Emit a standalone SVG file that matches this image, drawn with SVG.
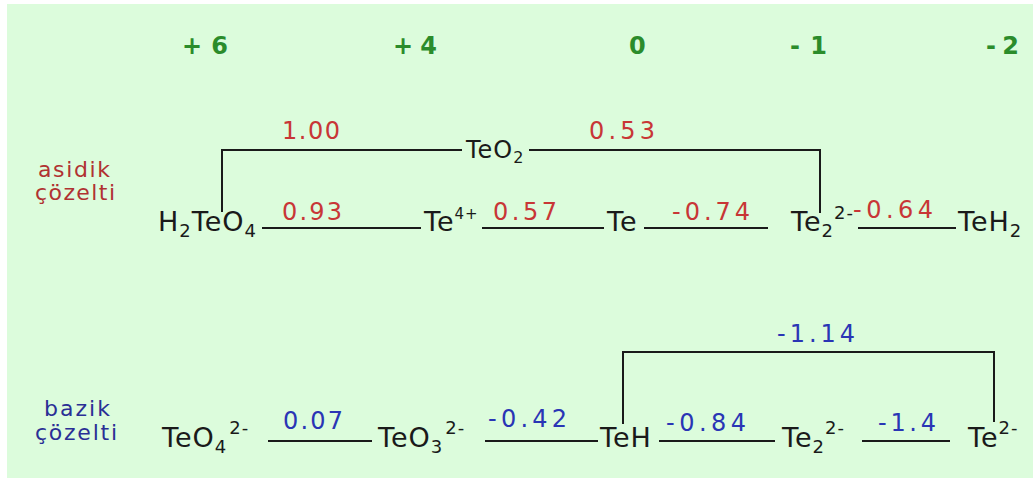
<svg xmlns="http://www.w3.org/2000/svg" width="1033" height="484" viewBox="0 0 1033 484">
<style>
.ox{font-family:"DejaVu Sans",Verdana,sans-serif;font-weight:bold;font-size:24px;fill:#2b8c2b}
.sp{font-family:"DejaVu Sans",Verdana,sans-serif;font-size:27px;fill:#1a1a1a;letter-spacing:1px}
.sm{font-size:18px}
.sm2{font-size:15px}
.nr{font-family:"DejaVu Sans",Verdana,sans-serif;font-size:24px;fill:#c83636}
.nb{font-family:"DejaVu Sans",Verdana,sans-serif;font-size:24px;fill:#2a35b5}
.lr{font-family:"DejaVu Sans",Verdana,sans-serif;font-size:22px;fill:#b03232}
.lb{font-family:"DejaVu Sans",Verdana,sans-serif;font-size:22px;fill:#2a2f95}
.ln{stroke:#1a1a1a;stroke-width:2;fill:none}
</style>
<rect x="0" y="0" width="1033" height="484" fill="#ffffff"/>
<rect x="7" y="4" width="1026" height="474" fill="#dcfcdc"/>

<g id="oxidation-states">
<text class="ox" x="182" y="54" textLength="46" lengthAdjust="spacing">+6</text>
<text class="ox" x="393" y="54" textLength="44" lengthAdjust="spacing">+4</text>
<text class="ox" x="629" y="54">0</text>
<text class="ox" x="790" y="54" textLength="37" lengthAdjust="spacing">-1</text>
<text class="ox" x="986" y="54" textLength="33" lengthAdjust="spacing">-2</text>
</g>

<g id="label-asidik">
<text class="lr" x="38" y="177" textLength="72" lengthAdjust="spacing">asidik</text>
<text class="lr" x="35" y="200" textLength="80" lengthAdjust="spacing">çözelti</text>
</g>
<g id="label-bazik">
<text class="lb" x="44" y="416" textLength="66" lengthAdjust="spacing">bazik</text>
<text class="lb" x="35" y="440" textLength="82" lengthAdjust="spacing">çözelti</text>
</g>

<g id="connectors">
<polyline class="ln" points="222,212 222,150 462,150"/>
<polyline class="ln" points="529,150 820,150 820,213"/>
<line class="ln" x1="262" y1="228" x2="421" y2="228"/>
<line class="ln" x1="482" y1="228" x2="604" y2="228"/>
<line class="ln" x1="644" y1="228" x2="768" y2="228"/>
<line class="ln" x1="858" y1="228" x2="956" y2="228"/>
<polyline class="ln" points="623,424 623,352 994,352 994,422"/>
<line class="ln" x1="268" y1="441" x2="372" y2="441"/>
<line class="ln" x1="485" y1="441" x2="598" y2="441"/>
<line class="ln" x1="659" y1="441" x2="775" y2="441"/>
<line class="ln" x1="862" y1="441" x2="950" y2="441"/>
</g>

<g id="acid-labels">
<text class="nr" x="282" y="139" textLength="58" lengthAdjust="spacing">1.00</text>
<text class="nr" x="589" y="139" textLength="66" lengthAdjust="spacing">0.53</text>
<text class="nr" x="282" y="220" textLength="60" lengthAdjust="spacing">0.93</text>
<text class="nr" x="493" y="220" textLength="64" lengthAdjust="spacing">0.57</text>
<text class="nr" x="672" y="220" textLength="78" lengthAdjust="spacing">-0.74</text>
<text class="nr" x="853" y="218" textLength="80" lengthAdjust="spacing">-0.64</text>
</g>

<g id="base-labels">
<text class="nb" x="777" y="342" textLength="78" lengthAdjust="spacing">-1.14</text>
<text class="nb" x="283" y="429" textLength="60" lengthAdjust="spacing">0.07</text>
<text class="nb" x="488" y="427" textLength="79" lengthAdjust="spacing">-0.42</text>
<text class="nb" x="666" y="431" textLength="80" lengthAdjust="spacing">-0.84</text>
<text class="nb" x="878" y="431" textLength="58" lengthAdjust="spacing">-1.4</text>
</g>

<g id="H2TeO4"><text class="sp" x="158" y="231">H<tspan class="sm" dy="6">2</tspan><tspan dy="-6">TeO</tspan><tspan class="sm" dy="6">4</tspan></text></g>
<g id="TeO2"><text class="sp" x="466" y="158" style="font-size:24px">TeO<tspan class="sm2" dy="5" style="font-size:16px">2</tspan></text></g>
<g id="Te4plus"><text class="sp" x="424" y="231">Te<tspan class="sm2" dy="-12">4+</tspan></text></g>
<g id="Te-acid"><text class="sp" x="607" y="231">Te</text></g>
<g id="Te2-2minus-acid"><text class="sp" x="791" y="231">Te<tspan class="sm" dy="6">2</tspan><tspan class="sm" dy="-18">2-</tspan></text></g>
<g id="TeH2"><text class="sp" x="958" y="231">TeH<tspan class="sm" dy="6">2</tspan></text></g>

<g id="TeO4-2minus"><text class="sp" x="162" y="447">TeO<tspan class="sm" dy="6">4</tspan><tspan class="sm" dy="-19" dx="2">2-</tspan></text></g>
<g id="TeO3-2minus"><text class="sp" x="378" y="447">TeO<tspan class="sm" dy="6">3</tspan><tspan class="sm" dy="-19" dx="2">2-</tspan></text></g>
<g id="TeH"><text class="sp" x="600" y="447">TeH</text></g>
<g id="Te2-2minus-base"><text class="sp" x="782" y="447">Te<tspan class="sm" dy="6">2</tspan><tspan class="sm" dy="-19">2-</tspan></text></g>
<g id="Te-2minus"><text class="sp" x="968" y="447">Te<tspan class="sm" dy="-13">2-</tspan></text></g>
</svg>
